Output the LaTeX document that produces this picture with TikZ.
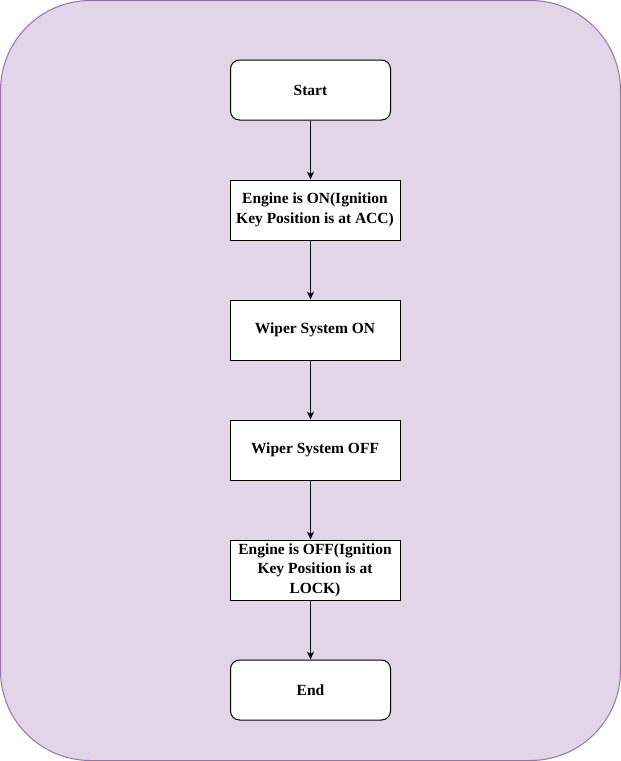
\documentclass[tikz,border=0pt]{standalone}
\usepackage{fontspec}
\setmainfont{Liberation Serif}
\usetikzlibrary{arrows.meta}
\definecolor{bgfill}{HTML}{E1D5E7}
\definecolor{bgline}{HTML}{9673A6}
\begin{document}
\begin{tikzpicture}[x=1pt,y=-1pt,
    terminal/.style={draw=black,fill=white,line width=1pt,rounded corners=9pt,
        minimum width=160pt,minimum height=60pt,inner sep=0pt,
        font=\fontsize{15.5}{19.5}\selectfont\bfseries},
    stepbox/.style={draw=black,fill=white,line width=1pt,
        minimum width=170pt,minimum height=60pt,inner sep=0pt,align=center,
        font=\fontsize{15.5}{19.5}\selectfont\bfseries},
    flow/.style={-{Stealth[length=8pt,width=7pt]},line width=1pt,black}]
        \useasboundingbox (0,0) rectangle (621,761);
        \draw[fill=bgfill,draw=bgline,line width=1pt,rounded corners=90pt]
            (0.5,0.5) rectangle (620.5,760.5);

        \node[terminal] (start) at (310.5,90) {Start};
        \node[stepbox] (eon) at (315,210) {Engine is ON(Ignition\\Key Position is at ACC)};
        \node[stepbox] (won) at (315,330) {Wiper System ON};
        \node[stepbox] (woff) at (315,450) {Wiper System OFF};
        \node[stepbox] (eoff) at (315,570) {Engine is OFF(Ignition\\Key Position is at\\LOCK)};
        \node[terminal] (stop) at (310.5,690) {End};

        \draw[flow] (start) -- (eon.north -| start);
        \draw[flow] (eon.south -| start) -- (won.north -| start);
        \draw[flow] (won.south -| start) -- (woff.north -| start);
        \draw[flow] (woff.south -| start) -- (eoff.north -| start);
        \draw[flow] (eoff.south -| start) -- (stop);

    \end{tikzpicture}
\end{document}
